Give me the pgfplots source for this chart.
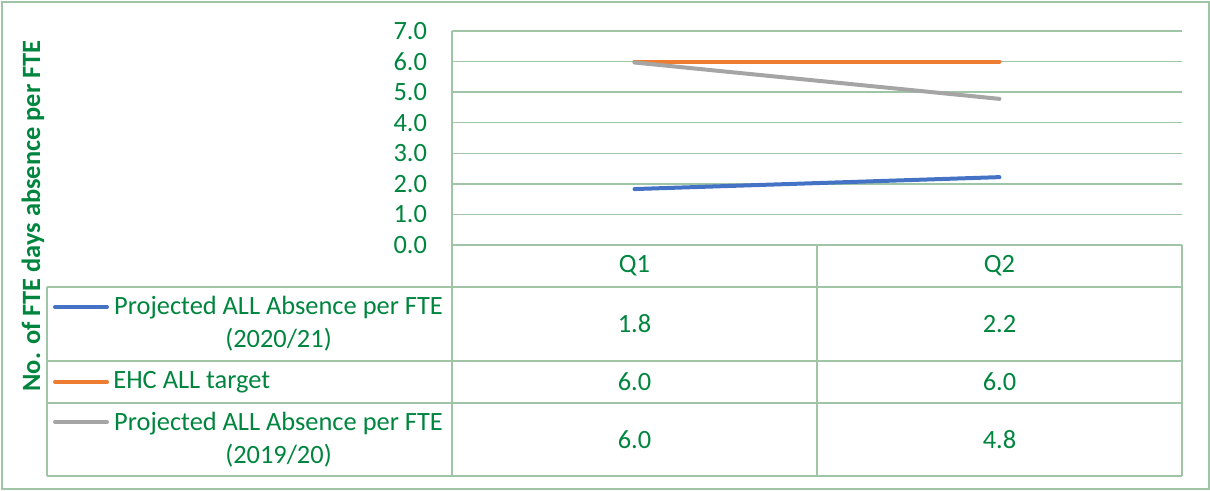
\documentclass[border=0pt]{standalone}
\usepackage{fontspec}
\setmainfont{Carlito}
\usepackage{xcolor}
\usepackage{pgfplots}
\usepackage{pgfplotstable}
\pgfplotsset{compat=1.18}

\definecolor{txtgreen}{RGB}{0,133,62}
\definecolor{gridgreen}{RGB}{160,196,166}
\definecolor{serblue}{RGB}{68,114,196}
\definecolor{serorange}{RGB}{237,125,49}
\definecolor{sergray}{RGB}{165,165,165}

\pgfkeys{/pgf/number format/assume math mode=true}

% quarter index, days absence per FTE
\pgfplotstableread{
q y
0 1.83
1 2.22
}\tabA
\pgfplotstableread{
q y
0 6.0
1 6.0
}\tabB
\pgfplotstableread{
q y
0 5.97
1 4.78
}\tabC

\newcommand{\cellval}[2]{\pgfplotstablegetelem{#2}{y}\of#1\pgfmathprintnumber[fixed,fixed zerofill,precision=1]{\pgfplotsretval}}

\begin{document}
\begin{tikzpicture}[font=\fontsize{13.2}{16.5}\selectfont]
% pixel frame: 1 px = 0.5pt, y grows downwards
\begin{scope}[x=0.5pt, y=-0.5pt]
  \path[use as bounding box] (0,0) rectangle (1210,491);
  \draw[gridgreen, line width=0.8pt] (2,2) rectangle (1209,489);
\end{scope}

\begin{axis}[
  at={(226pt,-122.5pt)}, anchor=south west,
  scale only axis, width=365pt, height=107pt,
  xmin=-0.5, xmax=1.5, ymin=0, ymax=7,
  xtick={0,1}, xticklabels={Q1,Q2},
  ytick={0,1,...,7},
  yticklabel style={/pgf/number format/fixed, /pgf/number format/fixed zerofill, /pgf/number format/precision=1, xshift=-9pt},
  xticklabel style={anchor=center, yshift=-10.5pt},
  ticklabel style={text=txtgreen},
  tick style={draw=none},
  ymajorgrids, grid style={gridgreen, line width=0.7pt},
  axis x line*=bottom, axis y line*=left,
  axis line style={gridgreen, line width=0.7pt, -},
  ylabel={\bfseries No. of FTE days absence per FTE},
  every axis y label/.style={at={(rel axis cs:0,0.1355)}, xshift=-209.5pt, rotate=90, anchor=center, text=txtgreen},
  clip=false,
]
\addplot[serblue, line width=2pt, line cap=round] table[x=q, y=y] {\tabA};
\addplot[serorange, line width=2pt, line cap=round] table[x=q, y=y] {\tabB};
\addplot[sergray, line width=2pt, line cap=round] table[x=q, y=y] {\tabC};
\end{axis}

\begin{scope}[x=0.5pt, y=-0.5pt]
  % data table grid
  \draw[gridgreen, line width=0.7pt]
    (47,287) -- (1182,287)
    (47,361) -- (1182,361)
    (47,403) -- (1182,403)
    (47,476) -- (1182,476)
    (47,287) -- (47,476)
    (452,245) -- (452,476)
    (817,245) -- (817,476)
    (1182,245) -- (1182,476);
  % legend keys
  \draw[serblue, line width=2pt, line cap=round] (55,307) -- (107,307);
  \draw[serorange, line width=2pt, line cap=round] (55,382) -- (107,382);
  \draw[sergray, line width=2pt, line cap=round] (55,422) -- (107,422);
  % series names
  \begin{scope}[every node/.style={text=txtgreen, align=center}]
    \node at (278.5,324) {Projected ALL Absence per FTE\\(2020/21)};
    \node[anchor=west, inner sep=0pt] at (113,382) {EHC ALL target};
    \node at (278.5,439.5) {Projected ALL Absence per FTE\\(2019/20)};
    % values
    \node at (634.5,324) {\cellval{\tabA}{0}};
    \node at (999.5,324) {\cellval{\tabA}{1}};
    \node at (634.5,382) {\cellval{\tabB}{0}};
    \node at (999.5,382) {\cellval{\tabB}{1}};
    \node at (634.5,439.5) {\cellval{\tabC}{0}};
    \node at (999.5,439.5) {\cellval{\tabC}{1}};
  \end{scope}
\end{scope}
\end{tikzpicture}
\end{document}
